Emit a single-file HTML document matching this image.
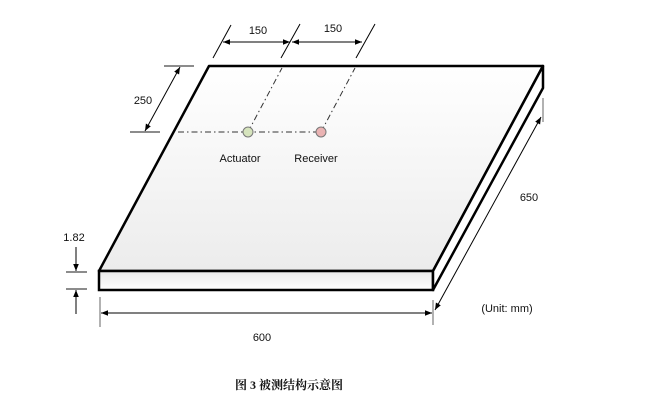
<!DOCTYPE html>
<html><head><meta charset="utf-8"><style>
html,body{margin:0;padding:0;background:#fff;width:658px;height:415px;overflow:hidden}
svg{display:block}
text{font-family:"Liberation Sans","DejaVu Sans",sans-serif;font-size:11px;fill:#111}
</style></head><body>
<svg width="658" height="415" viewBox="0 0 658 415" xmlns="http://www.w3.org/2000/svg">
<defs>
<linearGradient id="g" x1="0" y1="0" x2="0" y2="1"><stop offset="0" stop-color="#fff"/><stop offset="1" stop-color="#ececec"/></linearGradient>
<linearGradient id="g2" x1="0" y1="0" x2="0" y2="1"><stop offset="0" stop-color="#e8e8e8"/><stop offset="1" stop-color="#fff"/></linearGradient>
<marker id="a" viewBox="0 0 10 10" refX="10" refY="5" markerWidth="7" markerHeight="7" orient="auto-start-reverse"><path d="M0,1 L10,5 L0,9 z" fill="#000"/></marker>
</defs>
<!-- plate -->
<polygon points="209,66 543,66 433,271 99,271" fill="url(#g)" stroke="#000" stroke-width="2.5" stroke-linejoin="round"/>
<polygon points="99,271 433,271 433,290 99,290" fill="url(#g2)" stroke="#000" stroke-width="2.5"/>
<polygon points="543,66 543,88 433,290 433,271" fill="#fff" stroke="#000" stroke-width="2.5" stroke-linejoin="round"/>
<!-- dash-dot lines -->
<g stroke="#333" stroke-width="1" stroke-dasharray="6,3,1.5,3" fill="none">
<line x1="178" y1="132" x2="322" y2="132"/>
<line x1="248" y1="132" x2="282" y2="68"/>
<line x1="321" y1="132" x2="355" y2="68"/>
</g>
<circle cx="248" cy="132" r="5" fill="#d6e4bd" stroke="#777" stroke-width="1"/>
<circle cx="321" cy="132" r="5" fill="#eab3b3" stroke="#777" stroke-width="1"/>
<!-- 150 dims -->
<g stroke="#000" stroke-width="1">
<line x1="213" y1="58" x2="231" y2="25"/>
<line x1="281" y1="58" x2="300" y2="24"/>
<line x1="356" y1="58" x2="375" y2="24"/>
<line x1="223" y1="42" x2="290" y2="42" marker-start="url(#a)" marker-end="url(#a)"/>
<line x1="292" y1="42" x2="362" y2="42" marker-start="url(#a)" marker-end="url(#a)"/>
</g>
<text x="258" y="34" text-anchor="middle">150</text>
<text x="333" y="32" text-anchor="middle">150</text>
<!-- 250 -->
<g stroke="#000" stroke-width="1">
<line x1="164" y1="66" x2="194" y2="66" stroke="#666" stroke-width="1.5"/>
<line x1="130" y1="132" x2="160" y2="132" stroke="#666" stroke-width="1.5"/>
<line x1="180" y1="67" x2="145" y2="131" marker-start="url(#a)" marker-end="url(#a)"/>
</g>
<text x="143" y="104" text-anchor="middle">250</text>
<text x="240" y="162" text-anchor="middle">Actuator</text>
<text x="316" y="162" text-anchor="middle">Receiver</text>
<!-- 1.82 -->
<g stroke="#000" stroke-width="1">
<line x1="66" y1="272" x2="87" y2="272" stroke="#666" stroke-width="1.5"/>
<line x1="66" y1="289" x2="87" y2="289" stroke="#666" stroke-width="1.5"/>
<line x1="76" y1="247" x2="76" y2="271" marker-end="url(#a)"/>
<line x1="76" y1="314" x2="76" y2="290" marker-end="url(#a)"/>
</g>
<text x="74" y="241" text-anchor="middle">1.82</text>
<!-- 600 -->
<g stroke="#000" stroke-width="1">
<line x1="100" y1="297" x2="100" y2="327" stroke="#666"/>
<line x1="433" y1="300" x2="433" y2="325" stroke="#666"/>
<line x1="101" y1="313" x2="432" y2="313" marker-start="url(#a)" marker-end="url(#a)"/>
<line x1="543" y1="98" x2="543" y2="122" stroke="#666"/>
<line x1="541" y1="117" x2="435" y2="310" marker-start="url(#a)" marker-end="url(#a)"/>
</g>
<text x="262" y="341" text-anchor="middle">600</text>
<text x="529" y="201" text-anchor="middle">650</text>
<text x="507" y="312" text-anchor="middle">(Unit: mm)</text>
<text x="289" y="389" text-anchor="middle" style="font-family:'Liberation Serif','Noto Serif CJK SC',serif;font-size:12px;font-weight:bold">图 3  被测结构示意图</text>
</svg>
</body></html>
